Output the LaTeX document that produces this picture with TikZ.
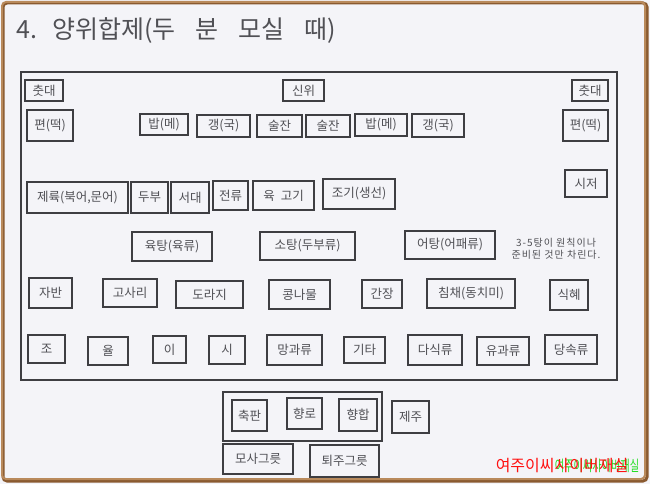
\documentclass[tikz,border=0pt]{standalone}
\usepackage{fontspec}
\setmainfont{Noto Sans CJK KR}
\definecolor{bgc}{HTML}{F4F4F8}
\definecolor{framec}{HTML}{B98A5C}
\definecolor{framedark}{HTML}{8A5A30}
\definecolor{boxc}{HTML}{3E3E42}
\definecolor{txtc}{HTML}{505055}
\definecolor{wmred}{HTML}{FF1010}
\definecolor{wmgreen}{HTML}{22DD22}
\tikzset{
  box/.style={draw=boxc, line width=2.4pt, text=txtc, inner sep=0pt,
    font=\fontsize{12.5}{12.5}\selectfont},
  bigbox/.style={draw=boxc, line width=2pt, inner sep=0pt},
  note/.style={text=txtc, align=center, font=\fontsize{10}{11.5}\selectfont\addfontfeature{LetterSpace=10}},
}
\newcommand\bx[6]{\node[box,minimum width={(#4-#2)*1pt},minimum height={(#5-#3)*1pt}] (#1) at ({(#2+#4)/2},{(#3+#5)/2}) {#6};}
\begin{document}
\begin{tikzpicture}[x=1pt,y=-1pt]
\useasboundingbox (0,0) rectangle (650,484);
\fill[bgc] (0,0) rectangle (650,484);
% photo frame
\draw[framedark, line width=3pt, rounded corners=4pt] (3,3) rectangle (647,481);
\draw[framec, line width=2pt, rounded corners=4pt] (2,2) rectangle (645,479);
% title
\node[anchor=west, text=txtc, font=\fontsize{25}{25}\selectfont, inner sep=0pt] (title) at (16,31)
  {4.\hspace{15pt}양위합제(두\hspace{20pt}분\hspace{20pt}모실\hspace{20pt}때)};
% main table
\node[bigbox, minimum width=596pt, minimum height=308pt] (table) at (319,226) {};
% row 1
\bx{chuA}{25}{80}{63}{101}{춧대}
\bx{sinwi}{283}{80}{324}{101}{신위}
\bx{chuB}{572}{80}{608}{101}{춧대}
% row 2
\bx{pyeonA}{27}{110}{73}{141}{편(떡)}
\bx{bapA}{140}{114}{188}{135}{밥(메)}
\bx{gaengA}{197}{115}{250}{137}{갱(국)}
\bx{sulA}{257}{115}{302}{137}{술잔}
\bx{sulB}{306}{115}{350}{137}{술잔}
\bx{bapB}{355}{114}{407}{136}{밥(메)}
\bx{gaengB}{412}{114}{464}{137}{갱(국)}
\bx{pyeonB}{563}{110}{608}{141}{편(떡)}
% row 3
\bx{jeyuk}{27}{182}{128}{213}{제륙(북어,문어)}
\bx{dubu}{131}{182}{168}{213}{두부}
\bx{seodae}{171}{182}{209}{213}{서대}
\bx{jeon}{213}{181}{248}{210}{전류}
\bx{yuk}{253}{181}{314}{210}{육\hspace{6pt}고기}
\bx{jogi}{323}{179}{395}{209}{조기(생선)}
\bx{sijeo}{565}{170}{607}{197}{시저}
% row 4
\bx{yuktang}{132}{232}{212}{261}{육탕(육류)}
\bx{sotang}{260}{232}{355}{260}{소탕(두부류)}
\bx{eotang}{405}{231}{495}{259}{어탕(어패류)}
\node[note] (remark) at (556,248.5) {3-5탕이 원칙이나\\준비된 것만 차린다.};
% row 5
\bx{jaban}{29}{278}{72}{308}{자반}
\bx{gosari}{103}{279}{157}{307}{고사리}
\bx{doraji}{176}{281}{243}{308}{도라지}
\bx{kong}{269}{280}{330}{309}{콩나물}
\bx{ganjang}{362}{280}{402}{308}{간장}
\bx{chimchae}{427}{279}{515}{308}{침채(동치미)}
\bx{sikhye}{550}{280}{588}{310}{식혜}
% row 6
\bx{jo}{28}{335}{65}{363}{조}
\bx{yul}{88}{337}{128}{365}{율}
\bx{ii}{153}{336}{186}{363}{이}
\bx{si}{209}{336}{245}{364}{시}
\bx{mang}{267}{335}{322}{365}{망과류}
\bx{gita}{344}{337}{385}{363}{기타}
\bx{dasik}{408}{335}{462}{365}{다식류}
\bx{yugwa}{477}{337}{529}{365}{유과류}
\bx{dangsok}{545}{335}{597}{364}{당속류}
% bottom group
\node[bigbox, minimum width=159pt, minimum height=49pt] (group) at (302.5,416.5) {};
\bx{chukpan}{232}{400}{267}{431}{축판}
\bx{hyangro}{287}{398}{322}{429}{향로}
\bx{hyanghap}{339}{399}{377}{431}{향합}
\bx{jeju}{392}{401}{429}{433}{제주}
\bx{mosa}{223}{444}{293}{474}{모사그릇}
\bx{toeju}{310}{445}{379}{477}{퇴주그릇}
% watermark
\node[text=wmgreen, font=\fontsize{15}{15}\selectfont, xscale=0.68, inner sep=0pt] (wmB) at (597,466) {여주이씨사이버재실};
\node[text=wmred, font=\fontsize{16}{16}\selectfont, inner sep=0pt] (wmA) at (562,466) {여주이씨사이버재실};
\end{tikzpicture}
\end{document}
